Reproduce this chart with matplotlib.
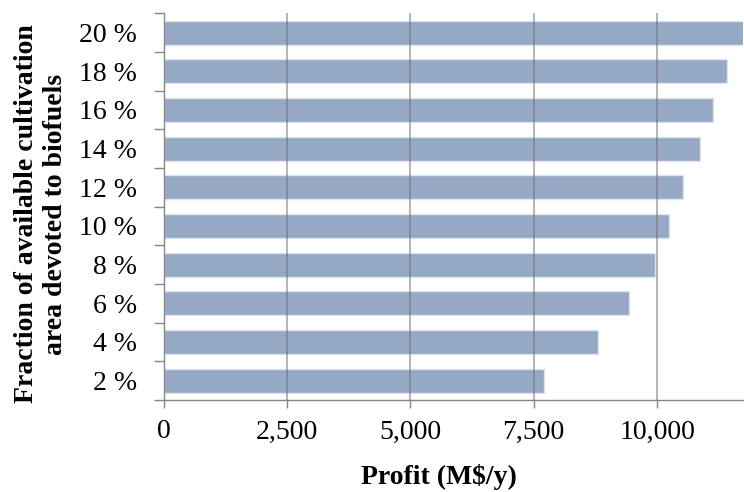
import matplotlib
matplotlib.use("Agg")
import matplotlib.pyplot as plt

categories = ["2 %", "4 %", "6 %", "8 %", "10 %", "12 %", "14 %", "16 %", "18 %", "20 %"]
profit = [7710, 8800, 9440, 9950, 10250, 10525, 10860, 11140, 11420, 11800]
xticks = [0, 2500, 5000, 7500, 10000]
xtick_labels = ["0", "2,500", "5,000", "7,500", "10,000"]

plt.rcParams['font.family'] = ['Liberation Serif', 'DejaVu Serif']

W, H = 744, 492
fig = plt.figure(figsize=(W / 100, H / 100), dpi=100)
ax = fig.add_axes([163.5 / W, 1 - 400 / H, (743 - 163.5) / W, (400 - 13.3) / H])

ypos = list(range(len(categories)))
ax.barh(ypos, profit, height=0.62, color="#95A9C4", edgecolor="#dde4ee", linewidth=1.0, zorder=2)

ax.set_xlim(0, 11740)
ax.set_ylim(-0.5, len(categories) - 0.5)

for xv in xticks[1:]:
    ax.axvline(xv, color="#6f6f6f", alpha=0.6, linewidth=1.2, zorder=3)

ax.set_yticks(ypos)
ax.set_yticklabels(categories, fontsize=20)
ax.set_yticks([i - 0.5 for i in range(len(categories) + 1)], minor=True)
ax.tick_params(axis="y", which="major", length=0, pad=19)
ax.tick_params(axis="y", which="minor", length=7, color="#868686", width=1)

ax.set_xticks(xticks)
ax.set_xticklabels(xtick_labels, fontsize=20)
ax.tick_params(axis="x", length=6, color="#868686", width=1, pad=8)

for s in ["top", "right"]:
    ax.spines[s].set_visible(False)
for s in ["left", "bottom"]:
    ax.spines[s].set_color("#868686")
    ax.spines[s].set_linewidth(1)

fig.text(439 / W, 1 - 477 / H, "Profit (M$/y)", fontsize=20, fontweight="bold",
         ha="center", va="center")
fig.text(41 / W, 1 - 214 / H, "Fraction of available cultivation\narea devoted to biofuels",
         fontsize=20, fontweight="bold", rotation=90, ha="center", va="center",
         multialignment="center", linespacing=1.2)

fig.savefig("out.png", dpi=100)
